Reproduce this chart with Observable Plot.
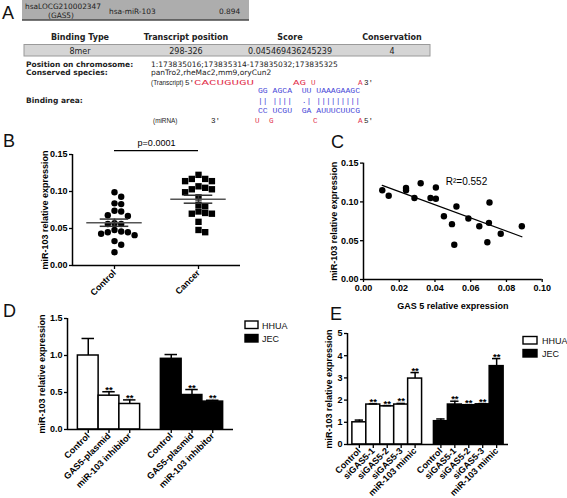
<!DOCTYPE html>
<html><head><meta charset="utf-8">
<script src="https://cdn.jsdelivr.net/npm/d3@7"></script>
<script src="https://cdn.jsdelivr.net/npm/@observablehq/plot@0.6"></script>
<style>
body{margin:0;background:#fff;}
#fig{position:relative;width:567px;height:498px;overflow:hidden;background:#fff;}
#fig > svg{position:absolute;}
#overlay{left:0;top:0;pointer-events:none;}
</style></head><body><div id="fig"></div>
<script>
// ================= DATA =================
// Panel A (table content)
const aLnc = "hsaLOCG210002347";
const aGene = "(GAS5)";
const aMirna = "hsa-miR-103";
const aTopScore = "0.894";
const aHeaders = ["Binding Type", "Transcript position", "Score", "Conservation"];
const aRow = ["8mer", "298-326", "0.045469436245239", "4"];
const aPosLabel = "Position on chromosome:";
const aPosValue = "1:173835016;173835314-173835032;173835325";
const aSpeciesLabel = "Conserved species:";
const aSpeciesValue = "panTro2,rheMac2,mm9,oryCun2";
const aBindingLabel = "Binding area:";
const aTranscriptTag = "(Transcript)";
const aTranscriptSegs = ["5'", "CACUGUGU", "AG", "U", "A", "3'"];
const aTranscriptRed = [false, true, true, true, true, false];
const aPairTop = "GG AGCA  UU UAAAGAAGC";
const aPairBars = "|| ||||  .| |||||||||";
const aPairBottom = "CC UCGU  GA AUUUCUUCG";
const aMirnaTag = "(miRNA)";
const aMirnaSegs = ["3'", "U", "G", "C", "A", "5'"];
const aMirnaRed = [false, true, true, true, true, false];

// Panel B (scatter dot plot)
const bCategories = ["Control", "Cancer"];
const bControl = [0.099, 0.093, 0.084, 0.083, 0.074, 0.073, 0.068, 0.067, 0.057, 0.056,
                  0.056, 0.048, 0.046, 0.045, 0.045, 0.043, 0.041, 0.033, 0.028, 0.018];
const bCancer = [0.1225, 0.117, 0.117, 0.114, 0.114, 0.107, 0.105, 0.103, 0.103, 0.099,
                 0.092, 0.082, 0.080, 0.073, 0.071, 0.070, 0.070, 0.059, 0.048, 0.045];
const bYTicks = [0, 0.05, 0.10, 0.15];
const bYTitle = "miR-103 relative expression";
const bPValue = "p=0.0001";

// Panel C (correlation)
const cGas5 = [0.0105, 0.0141, 0.0238, 0.0238, 0.0285, 0.0320, 0.0375, 0.0405, 0.0405, 0.0450,
               0.0495, 0.0520, 0.0508, 0.0587, 0.0648, 0.0705, 0.0702, 0.0693, 0.0768, 0.0886];
const cMir103 = [0.115, 0.108, 0.118, 0.115, 0.105, 0.124, 0.105, 0.1186, 0.104, 0.0816,
                 0.0713, 0.094, 0.0447, 0.0786, 0.0687, 0.0992, 0.073, 0.048, 0.0589, 0.0687];
const cXTicks = [0, 0.02, 0.04, 0.06, 0.08, 0.10];
const cYTicks = [0, 0.05, 0.10, 0.15];
const cXTitle = "GAS 5 relative expression";
const cYTitle = "miR-103 relative expression";
const cR2Label = "R\u00b2=0.552";

// Panel D (bars)
const groups = ["HHUA", "JEC"];
const dCategories = ["Control", "GAS5-plasmid", "miR-103 inhibitor"];
const dHHUA = [1.00, 0.457, 0.345];
const dHHUAErr = [0.23, 0.053, 0.055];
const dJEC = [0.955, 0.466, 0.377];
const dJECErr = [0.058, 0.074, 0.018];
const dSig = ["", "**", "**"];
const dYTicks = [0, 0.5, 1.0, 1.5];

// Panel E (bars)
const eCategories = ["Control", "siGAS5-1", "siGAS5-2", "siGAS5-3", "miR-103 mimic"];
const eHHUA = [1.00, 1.80, 1.72, 1.80, 2.97];
const eHHUAErr = [0.10, 0.03, 0.03, 0.05, 0.27];
const eJEC = [1.05, 1.80, 1.77, 1.81, 3.53];
const eJECErr = [0.10, 0.15, 0.02, 0.03, 0.34];
const eSig = ["", "**", "**", "**", "**"];
const eYTicks = [0, 1, 2, 3, 4, 5];
const barYTitle = "miR-103 relative expression";

// ================= LAYOUT / STYLE =================
const fig = document.getElementById("fig");
const plotStyle = {
  fontFamily: '"Liberation Sans", Arial, sans-serif',
  fontSize: "9px", fontWeight: "bold", color: "black",
  background: "transparent", overflow: "visible"
};
function place(svg, left, top) {
  svg.style.position = "absolute";
  svg.style.left = left + "px";
  svg.style.top = top + "px";
  fig.appendChild(svg);
}

// beeswarm-like horizontal offsets (pixels) for a column of values
function swarmOffsets(values, toPx, diameter, step) {
  const order = d3.range(values.length).sort((a, b) => d3.descending(values[a], values[b]));
  const placed = [];
  const offsets = new Array(values.length).fill(0);
  for (const i of order) {
    const py = toPx(values[i]);
    for (let k = 0; k < 60; k++) {
      const cand = k === 0 ? 0 : (k % 2 === 1 ? 1 : -1) * Math.ceil(k / 2) * step;
      if (placed.every(p => Math.hypot(p.x - cand, p.y - py) >= diameter)) {
        offsets[i] = cand; placed.push({x: cand, y: py}); break;
      }
    }
  }
  return offsets;
}

// ---------------- Panel B ----------------
{
  const W = 245, H = 175;
  const m = {top: 19, right: 5, bottom: 45, left: 72};
  const yDomain = [0, d3.max(bYTicks)];
  const xDomain = [-0.5, bCategories.length - 0.5];
  const yScale = Plot.scale({y: {domain: yDomain, range: [H - m.bottom, m.top]}});
  const pxPerUnit = (W - m.left - m.right) / (xDomain[1] - xDomain[0]);
  const cols = [bControl, bCancer];
  const pts = cols.map((vals, gi) => {
    const off = swarmOffsets(vals, v => yScale.apply(v), 6.4, 6.7);
    return vals.map((v, i) => ({x: gi + off[i] / pxPerUnit, y: v}));
  });
  const stats = cols.map((vals, gi) => {
    const mean = d3.mean(vals), sem = d3.deviation(vals) / Math.sqrt(vals.length);
    return {i: gi, mean, lo: mean - sem, hi: mean + sem};
  });
  const bracketY = yDomain[1] * 1.035;
  const svg = Plot.plot({
    width: W, height: H,
    marginTop: m.top, marginRight: m.right, marginBottom: m.bottom, marginLeft: m.left,
    x: {domain: xDomain}, y: {domain: yDomain},
    style: plotStyle,
    marks: [
      Plot.axisY({ticks: bYTicks, tickFormat: ".2f", tickSize: 3, tickPadding: 2, strokeWidth: 1.3,
        label: bYTitle, labelAnchor: "center", labelOffset: 31, labelArrow: "none"}),
      Plot.axisX({ticks: d3.range(bCategories.length), tickFormat: i => bCategories[i],
        tickRotate: -45, tickSize: 4, tickPadding: 2, strokeWidth: 1.3, label: null}),
      Plot.ruleX([xDomain[0]], {strokeWidth: 1.5}),
      Plot.ruleY([yDomain[0]], {strokeWidth: 1.5}),
      Plot.dot(pts[0], {x: "x", y: "y", r: 3.2, fill: "black", stroke: null, symbol: "circle"}),
      Plot.dot(pts[1], {x: "x", y: "y", r: 3.6, fill: "black", stroke: null, symbol: "square"}),
      Plot.ruleY(stats, {y: "mean", x1: d => d.i - 0.33, x2: d => d.i + 0.33, stroke: "#555", strokeWidth: 1.6}),
      Plot.ruleY(stats, {y: "lo", x1: d => d.i - 0.17, x2: d => d.i + 0.17, stroke: "#333", strokeWidth: 1.5}),
      Plot.ruleY(stats, {y: "hi", x1: d => d.i - 0.17, x2: d => d.i + 0.17, stroke: "#333", strokeWidth: 1.5}),
      Plot.ruleX(stats, {x: "i", y1: "lo", y2: "hi", stroke: "#333", strokeWidth: 1.5}),
      Plot.ruleY([bracketY], {x1: 0, x2: bCategories.length - 1, strokeWidth: 1.4}),
      Plot.text([bPValue], {x: (bCategories.length - 1) / 2, y: bracketY, text: d => d, dy: -8,
        fontWeight: "normal", fontSize: 9})
    ]
  });
  place(svg, 0, 135);
}

// ---------------- Panel C ----------------
{
  const pts = cGas5.map((x, i) => ({x, y: cMir103[i]}));
  const svg = Plot.plot({
    width: 260, height: 165,
    marginTop: 12.6, marginRight: 8.3, marginBottom: 36, marginLeft: 73,
    x: {domain: [0, d3.max(cXTicks)]}, y: {domain: [0, d3.max(cYTicks)]},
    style: plotStyle,
    marks: [
      Plot.axisY({ticks: cYTicks, tickFormat: ".2f", tickSize: 3, tickPadding: 2, strokeWidth: 1.3,
        label: cYTitle, labelAnchor: "center", labelOffset: 32.5, labelArrow: "none"}),
      Plot.axisX({ticks: cXTicks, tickFormat: ".2f", tickSize: 3, tickPadding: 2, strokeWidth: 1.3,
        label: cXTitle, labelAnchor: "center", labelOffset: 29, labelArrow: "none"}),
      Plot.ruleX([0], {strokeWidth: 1.5}),
      Plot.ruleY([0], {strokeWidth: 1.5}),
      Plot.dot(pts, {x: "x", y: "y", r: 3.2, fill: "black", stroke: null}),
      Plot.linearRegressionY(pts, {x: "x", y: "y", ci: 0, stroke: "black", strokeWidth: 1.3}),
      Plot.text([cR2Label], {frameAnchor: "top-right", dx: -55, dy: 15, text: d => d,
        fontWeight: "normal", fontSize: 10})
    ]
  });
  place(svg, 290, 150);
}

// ---------------- Bar panels D & E ----------------
function barPanel({cats, values, errors, sig, yTicks, yFormat, pad, gap, W, H, m, labelOffset, fontSize, capHalf}) {
  const n = cats.length;
  const bars = [];
  groups.forEach((g, gi) => cats.forEach((c, j) => bars.push({
    gi, cat: c, c: pad + gi * (n + gap) + j + 0.5,
    v: values[gi][j], e: errors[gi][j], s: sig[j]
  })));
  const xDomain = [0, 2 * pad + groups.length * n + (groups.length - 1) * gap];
  const yDomain = [0, d3.max(yTicks)];
  const labelOf = new Map(bars.map(d => [d.c, d.cat]));
  const groupFill = ["white", "black"];
  return Plot.plot({
    width: W, height: H,
    marginTop: m.top, marginRight: m.right, marginBottom: m.bottom, marginLeft: m.left,
    x: {domain: xDomain}, y: {domain: yDomain},
    style: {...plotStyle, fontSize: fontSize + "px"},
    marks: [
      Plot.axisY({ticks: yTicks, tickFormat: yFormat, tickSize: 3, tickPadding: 2, strokeWidth: 1.3,
        label: barYTitle, labelAnchor: "center", labelOffset, labelArrow: "none"}),
      Plot.axisX({ticks: bars.map(d => d.c), tickFormat: d => labelOf.get(d),
        tickRotate: -45, tickSize: 4, tickPadding: 1, strokeWidth: 1.3, label: null}),
      ...groups.map((g, gi) => Plot.rectY(bars.filter(d => d.gi === gi), {
        x1: d => d.c - 0.5, x2: d => d.c + 0.5, y1: 0, y2: "v",
        fill: groupFill[gi], stroke: "black", strokeWidth: 1.5, inset: 0
      })),
      Plot.ruleX(bars, {x: "c", y1: "v", y2: d => d.v + d.e, stroke: "black", strokeWidth: 1.5}),
      Plot.ruleY(bars, {y: d => d.v + d.e, x1: d => d.c - capHalf, x2: d => d.c + capHalf, stroke: "black", strokeWidth: 1.5}),
      Plot.text(bars.filter(d => d.s), {x: "c", y: d => d.v + d.e, text: "s", dy: -2,
        lineAnchor: "middle", fontSize: 9.5, fontWeight: "bold"}),
      Plot.ruleX([xDomain[0]], {strokeWidth: 1.5}),
      Plot.ruleY([yDomain[0]], {strokeWidth: 1.5})
    ]
  });
}

place(barPanel({
  cats: dCategories, values: [dHHUA, dJEC], errors: [dHHUAErr, dJECErr], sig: dSig,
  yTicks: dYTicks, yFormat: ".1f", pad: 0.5, gap: 1,
  W: 240, H: 188, m: {top: 8, right: 7, bottom: 69, left: 67}, labelOffset: 28.5, fontSize: 9, capHalf: 0.3
}), 0, 310);

place(barPanel({
  cats: eCategories, values: [eHHUA, eJEC], errors: [eHHUAErr, eJECErr], sig: eSig,
  yTicks: eYTicks, yFormat: "d", pad: 0.35, gap: 0.85,
  W: 233, H: 173, m: {top: 8, right: 5, bottom: 54, left: 67}, labelOffset: 21.5, fontSize: 9, capHalf: 0.3
}), 280, 325);

// ================= OVERLAY: panel A, panel letters, legends =================
const ov = d3.select(fig).append("svg").attr("id", "overlay")
  .attr("width", 567).attr("height", 498)
  .style("position", "absolute").style("left", "0px").style("top", "0px");

const sans = '"DejaVu Sans", Verdana, sans-serif';
const arial = '"Liberation Sans", Arial, sans-serif';
const mono = '"Liberation Mono", "DejaVu Sans Mono", monospace';
const red = "#e2334f", blue = "#4848d8", ink = "#222";

// top result bar
ov.append("rect").attr("x", 22).attr("y", 0).attr("width", 227).attr("height", 20).attr("fill", "#adadad");
ov.append("line").attr("x1", 22).attr("x2", 249).attr("y1", 20).attr("y2", 20).attr("stroke", "#4a4a4a").attr("stroke-width", 1.6);
const topTxt = (t, x, y, anchor = "start") => ov.append("text").text(t).attr("x", x).attr("y", y)
  .attr("text-anchor", anchor).attr("font-family", sans).attr("font-size", 7.4).attr("fill", ink);
topTxt(aLnc, 25, 8.5);
topTxt(aGene, 61, 17.5, "middle");
topTxt(aMirna, 109, 13.5);
topTxt(aTopScore, 219, 13.5);

// binding table
const colX = [80, 186, 290, 392];
aHeaders.forEach((h, i) => ov.append("text").text(h).attr("x", colX[i]).attr("y", 40)
  .attr("text-anchor", "middle").attr("font-family", sans).attr("font-weight", "bold").attr("font-size", 8).attr("fill", ink));
ov.append("rect").attr("x", 24).attr("y", 44.5).attr("width", 406).attr("height", 11.5)
  .attr("fill", "#d5d5d5").attr("stroke", "#9a9a9a").attr("stroke-width", 1);
aRow.forEach((h, i) => ov.append("text").text(h).attr("x", colX[i]).attr("y", 53.5)
  .attr("text-anchor", "middle").attr("font-family", sans).attr("font-size", 8).attr("fill", ink));

const infoTxt = (t, x, y, bold) => ov.append("text").text(t).attr("x", x).attr("y", y)
  .attr("font-family", sans).attr("font-size", 7.5).attr("font-weight", bold ? "bold" : "normal").attr("fill", ink);
infoTxt(aPosLabel, 26, 67, true);
infoTxt(aPosValue, 151, 67, false);
infoTxt(aSpeciesLabel, 26, 75, true);
infoTxt(aSpeciesValue, 151, 75, false);
infoTxt(aBindingLabel, 26, 103, true);

// alignment rows
ov.append("text").text(aTranscriptTag).attr("x", 151).attr("y", 85)
  .attr("font-family", arial).attr("font-size", 6.4).attr("fill", ink);
const seqX = [185, 194, 293, 311, 358, 364];
const seqW = [0, 60, 13, 0, 0, 0];
aTranscriptSegs.forEach((s, i) => {
  const t = ov.append("text").text(s).attr("x", seqX[i]).attr("y", 85)
    .attr("font-family", mono).attr("font-size", 7.6)
    .attr("fill", aTranscriptRed[i] ? red : ink);
  if (seqW[i]) t.attr("textLength", seqW[i]).attr("lengthAdjust", "spacingAndGlyphs");
});
ov.append("text").text(aMirnaTag).attr("x", 153).attr("y", 123)
  .attr("font-family", arial).attr("font-size", 6.4).attr("fill", ink);
const mirX = [211, 255, 269, 313, 358, 364];
aMirnaSegs.forEach((s, i) => {
  ov.append("text").text(s).attr("x", mirX[i]).attr("y", 123)
    .attr("font-family", mono).attr("font-size", 7.6)
    .attr("fill", aMirnaRed[i] ? red : ink);
});
[[aPairTop, 93], [aPairBars, 103], [aPairBottom, 113]].forEach(([s, y]) =>
  ov.append("text").text(s).attr("x", 258).attr("y", y).attr("xml:space", "preserve")
    .style("white-space", "pre").attr("font-family", mono).attr("font-size", 8.1)
    .attr("fill", blue));

// panel letters
const letter = (t, x, y) => ov.append("text").text(t).attr("x", x).attr("y", y)
  .attr("font-family", arial).attr("font-size", 18).attr("fill", "#111");
letter("A", 2, 19); letter("B", 3, 147); letter("C", 331, 148); letter("D", 3, 317); letter("E", 330, 320);

// legends for D and E
const legendFill = ["white", "black"];
function legend(x, y0, dy, textX, w) {
  groups.forEach((g, i) => {
    ov.append("rect").attr("x", x).attr("y", y0 + i * dy).attr("width", w).attr("height", 7.5)
      .attr("fill", legendFill[i]).attr("stroke", "black").attr("stroke-width", 1.4);
    ov.append("text").text(g).attr("x", textX).attr("y", y0 + i * dy + 7.5)
      .attr("font-family", arial).attr("font-size", 9).attr("fill", "#111");
  });
}
legend(245, 321, 13.5, 262, 13);
legend(523, 336.5, 13, 542, 14);
</script></body></html>
